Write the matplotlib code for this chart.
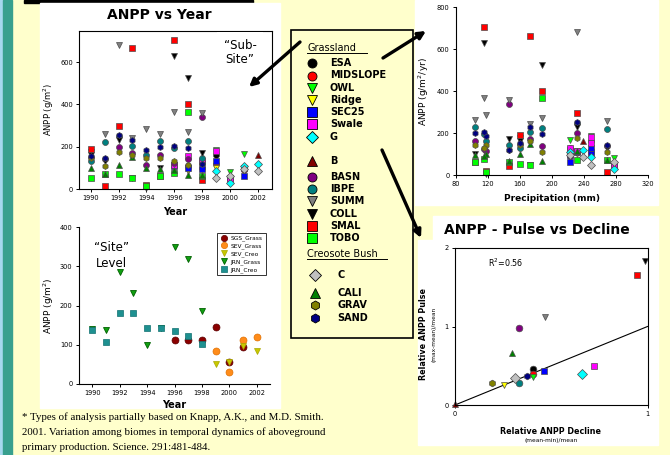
import numpy as np
import matplotlib.pyplot as plt
from matplotlib.patches import Rectangle

# ---------------- data ----------------
jrn_years = [1990, 1991, 1992, 1993, 1994, 1995, 1996, 1997, 1998]
sgs_years = [1996, 1997, 1998, 1999, 2000, 2001]
sev_years = [1999, 2000, 2001, 2002]
b_years = [2002]

# precipitation (mm) of each year, per group
jrn_precip = [160, 269, 231, 173, 118, 104, 115, 188, 146]
sgs_precip = [231, 248, 223, 248, 277, 223]
sev_precip = [248, 277, 223, 239]
b_precip = [239]

# ANPP (g/m2) per sub-site
esa = [110, 108, 130, 160, 50, 95]
midslope = [112, 110, 100, 120, 55, 90]
owl = [115, 100, 110, 185, 80, 165]
ridge = [100, 85, 105, 100, 45, 85]
sec25 = [108, 100, 95, 130, 50, 62]
swale = [115, 155, 130, 180, 48, 100]
g_site = [85, 30, 110, 120]
b_site = [160]
basn = [150, 140, 200, 170, 115, 160, 125, 140, 340]
ibpe = [130, 220, 250, 205, 160, 228, 195, 225, 145]
summ = [175, 258, 680, 242, 285, 260, 365, 270, 360]
coll = [160, 130, 230, 50, 5, 100, 630, 525, 170]
smal = [190, 15, 298, 665, 18, 60, 705, 400, 42]
tobo = [52, 72, 72, 50, 15, 60, 75, 365, 62]
c_site = [50, 60, 95, 85]
cali = [100, 72, 115, 150, 100, 95, 90, 65, 65]
grav = [145, 110, 175, 160, 145, 145, 130, 112, 120]
sand = [155, 145, 255, 230, 185, 198, 205, 195, 120]

# site level means
sgs_grass = [112, 113, 112, 145, 57, 95]
sev_grass = [85, 30, 113, 120]
sev_creo = [50, 57, 97, 83]
jrn_grass = [140, 138, 287, 232, 100, 143, 350, 320, 187]
jrn_creo = [138, 108, 182, 182, 143, 143, 135, 122, 102]

# pulse vs decline
pd_names = ['ESA', 'MIDSLOPE', 'OWL', 'Ridge', 'SEC25', 'Swale', 'G', 'B',
            'BASN', 'IBPE', 'SUMM', 'COLL', 'SMAL', 'C', 'CALI', 'GRAV', 'SAND']
pd_decline = [0.405, 0.405, 0.405, 0.255, 0.464, 0.72, 0.658, 0.0,
              0.33, 0.33, 0.47, 0.986, 0.948, 0.31, 0.297, 0.19, 0.373]
pd_pulse = [0.46, 0.40, 0.36, 0.255, 0.43, 0.50, 0.395, 0.01,
            0.985, 0.285, 1.12, 1.83, 1.66, 0.35, 0.66, 0.285, 0.37]
fit_x = [0, 1]
fit_y = [0, 1.0]

grass_names = ['ESA', 'MIDSLOPE', 'OWL', 'Ridge', 'SEC25', 'Swale', 'G', 'B',
               'BASN', 'IBPE', 'SUMM', 'COLL', 'SMAL', 'TOBO']
creo_names = ['C', 'CALI', 'GRAV', 'SAND']

# ---------------- styles ----------------
style = {
    'ESA': ('o', '#000000'), 'MIDSLOPE': ('o', '#FF0000'),
    'OWL': ('v', '#00FF00'), 'Ridge': ('v', '#FFFF00'),
    'SEC25': ('s', '#0000FF'), 'Swale': ('s', '#FF00FF'),
    'G': ('D', '#00FFFF'), 'B': ('^', '#800000'),
    'BASN': ('o', '#800080'), 'IBPE': ('o', '#008080'),
    'SUMM': ('v', '#808080'), 'COLL': ('v', '#000000'),
    'SMAL': ('s', '#FF0000'), 'TOBO': ('s', '#00FF00'),
    'C': ('D', '#C0C0C0'), 'CALI': ('^', '#008000'),
    'GRAV': ('h', '#808000'), 'SAND': ('h', '#000080'),
}

subsites = [
    ('ESA', sgs_years, esa, sgs_precip), ('MIDSLOPE', sgs_years, midslope, sgs_precip),
    ('OWL', sgs_years, owl, sgs_precip), ('Ridge', sgs_years, ridge, sgs_precip),
    ('SEC25', sgs_years, sec25, sgs_precip), ('Swale', sgs_years, swale, sgs_precip),
    ('G', sev_years, g_site, sev_precip), ('B', b_years, b_site, b_precip),
    ('BASN', jrn_years, basn, jrn_precip), ('IBPE', jrn_years, ibpe, jrn_precip),
    ('SUMM', jrn_years, summ, jrn_precip), ('COLL', jrn_years, coll, jrn_precip),
    ('SMAL', jrn_years, smal, jrn_precip), ('TOBO', jrn_years, tobo, jrn_precip),
    ('C', sev_years, c_site, sev_precip), ('CALI', jrn_years, cali, jrn_precip),
    ('GRAV', jrn_years, grav, jrn_precip), ('SAND', jrn_years, sand, jrn_precip),
]

W, H = 670, 455
BG = '#FFFFCC'
plt.rcParams['font.family'] = 'DejaVu Sans'

fig = plt.figure(figsize=(6.7, 4.55), dpi=100, facecolor=BG)


def px_axes(x0, y0, x1, y1, z=5):
    # axes from pixel box (top-left origin)
    return fig.add_axes([x0 / W, 1 - y1 / H, (x1 - x0) / W, (y1 - y0) / H], zorder=z)


def style_ax(ax, box=False):
    for s in ['top', 'right']:
        ax.spines[s].set_visible(box)
    for s in ax.spines.values():
        s.set_linewidth(0.8)
    ax.tick_params(direction='out', length=2.5, width=0.7, labelsize=4.8, pad=2)


# background
bg = fig.add_axes([0, 0, 1, 1], zorder=0)
bg.set_xlim(0, W)
bg.set_ylim(H, 0)
bg.axis('off')
bg.add_patch(Rectangle((0, 0), 3, H, color='#A6D8EE'))
bg.add_patch(Rectangle((3, 0), 9, H, color='#38A08E'))
bg.add_patch(Rectangle((24, 0), 229, 2.5, color='black'))
bg.add_patch(Rectangle((40, 3), 240, 405, color='white'))
bg.add_patch(Rectangle((415, 0), 243, 205, color='white'))
bg.add_patch(Rectangle((433, 216), 225, 24, color='white'))
bg.add_patch(Rectangle((418, 240), 240, 205, color='white'))

# ---------------- ANPP vs Year (sub-site) ----------------
ax1 = px_axes(79.3, 30.7, 271.7, 189)
ax1.set_facecolor('none')
for name, yrs, vals, _ in subsites:
    m, c = style[name]
    ax1.plot(yrs, vals, ls='none', marker=m, ms=4.3, mfc=c, mec='0.3', mew=0.5, clip_on=False)
ax1.set_xlim(1989.18, 2003.0)
ax1.set_ylim(0, 748)
ax1.set_xticks(range(1990, 2003, 2))
ax1.set_yticks([0, 200, 400, 600])
style_ax(ax1, box=True)
ax1.set_xlabel('Year', fontsize=7, fontweight='bold', labelpad=4)
ax1.set_ylabel('ANPP (g/m$^2$)', fontsize=6, labelpad=3)
ax1.text(0.835, 0.86, '\u201cSub-\nSite\u201d', transform=ax1.transAxes, ha='center', va='center',
         fontsize=8.5, linespacing=1.1,
         bbox=dict(facecolor='white', edgecolor='none', pad=5), zorder=10)

# ---------------- ANPP vs Year (site) ----------------
ax2 = px_axes(78.7, 227.3, 270.4, 384)
ax2.set_facecolor('none')
ax2.plot(sgs_years, sgs_grass, ls='none', marker='o', ms=5, mfc='#8B0000', mec='#5A0000',
         mew=0.5, label='SGS_Grass')
ax2.plot(sev_years, sev_grass, ls='none', marker='o', ms=5, mfc='#FF8C1A', mec='#E07000',
         mew=0.5, label='SEV_Grass')
ax2.plot(sev_years, sev_creo, ls='none', marker='v', ms=5, mfc='#C8C800', mec='#A8A800',
         mew=0.5, label='SEV_Creo')
ax2.plot(jrn_years, jrn_grass, ls='none', marker='v', ms=5, mfc='#10A010', mec='#006000',
         mew=0.6, label='JRN_Grass')
ax2.plot(jrn_years, jrn_creo, ls='none', marker='s', ms=5, mfc='#1E9090', mec='#107070',
         mew=0.5, label='JRN_Creo')
ax2.set_xlim(1989, 2003)
ax2.set_ylim(0, 400)
ax2.set_xticks(range(1990, 2003, 2))
ax2.set_yticks([0, 100, 200, 300, 400])
style_ax(ax2)
ax2.set_xlabel('Year', fontsize=7, fontweight='bold', labelpad=3)
ax2.set_ylabel('ANPP (g/m$^2$)', fontsize=6.5, labelpad=3)
leg = ax2.legend(loc='upper right', bbox_to_anchor=(0.99, 0.985), fontsize=4.2, frameon=True,
                 fancybox=False, edgecolor='black', handletextpad=0.6, labelspacing=0.35,
                 borderpad=0.5, markerscale=0.9, handlelength=1.2)
leg.get_frame().set_linewidth(0.7)
ax2.text(0.17, 0.82, '\u201cSite\u201d\nLevel', transform=ax2.transAxes, ha='center', va='center',
         fontsize=8.5, linespacing=1.25)

# ---------------- ANPP vs precipitation ----------------
ax3 = px_axes(455.7, 7.3, 648.3, 175)
ax3.set_facecolor('none')
for name, _, vals, prc in subsites:
    m, c = style[name]
    ax3.plot(prc, vals, ls='none', marker=m, ms=4.3, mfc=c, mec='0.3', mew=0.5, clip_on=False)
ax3.set_xlim(80, 320)
ax3.set_ylim(0, 800)
ax3.set_xticks(range(80, 321, 40))
ax3.set_yticks(range(0, 801, 200))
style_ax(ax3)
ax3.set_xlabel('Precipitation (mm)', fontsize=6.5, fontweight='bold', labelpad=5)
ax3.set_ylabel('ANPP (g/m$^2$/yr)', fontsize=6.5, labelpad=4)

# ---------------- pulse vs decline ----------------
ax4 = px_axes(455, 248, 647.5, 405)
ax4.set_facecolor('none')
ax4.plot(fit_x, fit_y, color='black', lw=0.8)
for name, dx, py in zip(pd_names, pd_decline, pd_pulse):
    m, c = style[name]
    ax4.plot(dx, py, ls='none', marker=m, ms=4.8, mfc=c, mec='0.3', mew=0.5, clip_on=False)
ax4.set_xlim(0, 1)
ax4.set_ylim(0, 2)
ax4.set_xticks([0, 1])
ax4.set_yticks([0, 1, 2])
style_ax(ax4, box=True)
ax4.text(0.17, 1.76, 'R$^2$=0.56', fontsize=5.8)

# ---------------- overlay: texts, legend, arrows ----------------
ov = fig.add_axes([0, 0, 1, 1], zorder=20)
ov.set_xlim(0, W)
ov.set_ylim(H, 0)
ov.axis('off')
ov.patch.set_alpha(0)

ov.text(159, 15, 'ANPP vs Year', ha='center', va='center', fontsize=10, fontweight='bold')
ov.text(537, 230, 'ANPP - Pulse vs Decline', ha='center', va='center', fontsize=10,
        fontweight='bold')
ov.text(423, 334, 'Relative ANPP Pulse', rotation=90, ha='center', va='center',
        fontsize=5.8, fontweight='bold')
ov.text(434, 334, '(max-mean)/mean', rotation=90, ha='center', va='center', fontsize=4.2)
ov.text(551, 431, 'Relative ANPP Decline', ha='center', va='center', fontsize=5.8,
        fontweight='bold')
ov.text(551, 440.5, '(mean-min)/mean', ha='center', va='center', fontsize=4.2)

# footnote
foot = ['* Types of analysis partially based on Knapp, A.K., and M.D. Smith.',
        '2001. Variation among biomes in temporal dynamics of aboveground',
        'primary production. Science. 291:481-484.']
for i, line in enumerate(foot):
    ov.text(22, 417 + i * 15.5, line, ha='left', va='center', fontsize=7.8,
            family='Liberation Serif')

# legend box
ov.add_patch(Rectangle((291, 30), 122, 308, facecolor=BG, edgecolor='black', lw=1.2, zorder=1))
ov.text(307, 48, 'Grassland', ha='left', va='center', fontsize=7, zorder=3)
ov.plot([307, 367], [53, 53], color='black', lw=0.7, zorder=3)
grass_y = [63, 75.5, 88, 100, 112, 124, 137, 161, 177, 189, 201, 214, 226, 238]
for name, yy in zip(grass_names, grass_y):
    m, c = style[name]
    ov.plot(312, yy, marker=m, ms=6.5, mfc=c, mec='black', mew=0.6, zorder=3)
    ov.text(330, yy, name, ha='left', va='center', fontsize=7, fontweight='bold', zorder=3)
ov.text(307, 254, 'Creosote Bush', ha='left', va='center', fontsize=7, zorder=3)
ov.plot([307, 387], [259, 259], color='black', lw=0.7, zorder=3)
creo_y = [275, 293, 305, 318]
for name, yy in zip(creo_names, creo_y):
    m, c = style[name]
    ov.plot(315, yy, marker=m, ms=6.5, mfc=c, mec='black', mew=0.6, zorder=3)
    ov.text(337, yy, name, ha='left', va='center', fontsize=7, fontweight='bold', zorder=3)

arrow = dict(arrowstyle='-|>', lw=2.4, color='black', mutation_scale=11, shrinkA=0, shrinkB=0)
ov.annotate('', xy=(249, 87), xytext=(300, 42), arrowprops=arrow)
ov.annotate('', xy=(426, 31), xytext=(383, 58), arrowprops=arrow)
ov.annotate('', xy=(421, 238), xytext=(382, 150), arrowprops=arrow)

fig.savefig('out.png', dpi=100, facecolor=BG)
